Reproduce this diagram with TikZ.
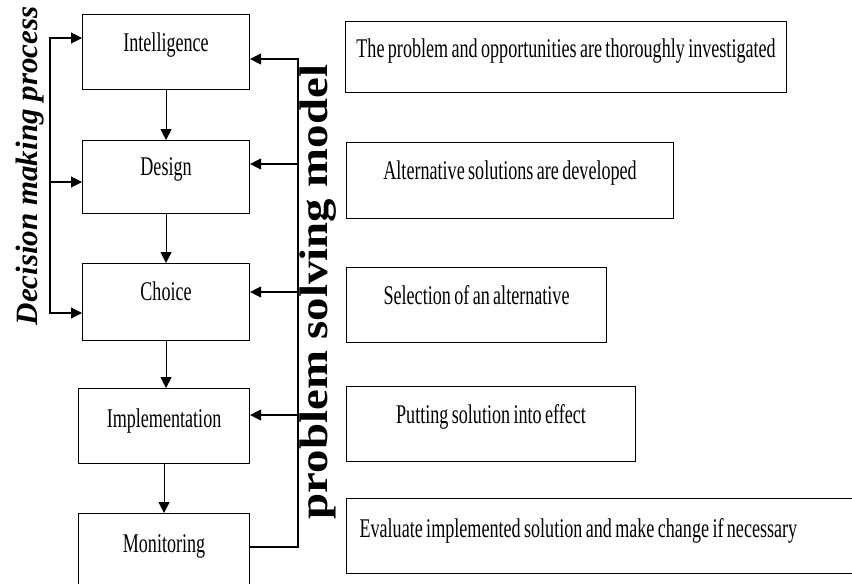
\documentclass[tikz,border=0pt]{standalone}
\usepackage{fontspec}
\setmainfont{Liberation Serif}
\newfontfamily\stagefont{Liberation Serif}[FakeStretch=0.67, WordSpace=0.75]
\newfontfamily\modelfont{Liberation Serif}[FakeStretch=1.17]
\usetikzlibrary{arrows.meta, positioning, calc}

\begin{document}
\begin{tikzpicture}[
    x=1pt, y=-1pt,
    >={Triangle[length=11pt, width=11pt]},
    stagebox/.style={
        rectangle, draw=black, line width=1.1pt,
        inner xsep=4pt, inner ysep=0pt,
        text height=37pt, text depth=38pt,
        anchor=north west,
        font=\stagefont\fontsize{27}{30}\selectfont
    },
    sidelabel/.style={rotate=90, anchor=base, inner sep=0pt},
    arrow/.style={->, line width=1.1pt},
    link/.style={line width=1.1pt, line cap=rect}
]

\useasboundingbox (0,0) rectangle (852,584);
\clip (0,0) rectangle (852,584);

% ==============================================================================
% DECISION STAGES (LEFT COLUMN)
% ==============================================================================
\node[stagebox, minimum width=167pt] (intel) at (82,14) {Intelligence};
\node[stagebox, minimum width=167pt, text height=35pt] (design) at (82,140) {Design};
\node[stagebox, minimum width=167pt, text depth=40pt] (choice) at (82,263) {Choice};
\node[stagebox, minimum width=171pt, text height=39pt, text depth=36pt] (impl) at (78,388) {Implementation};
\node[stagebox, minimum width=171pt, text height=39pt, text depth=60pt] (monit) at (78,513) {Monitoring};

\draw[arrow] (intel.south) -- (design.north);
\draw[arrow] (design.south) -- (choice.north);
\draw[arrow] (choice.south) -- (choice.south |- impl.north);
\draw[arrow] (impl.south) -- (monit.north);

% ==============================================================================
% DECISION MAKING PROCESS (LEFT BRACKET)
% ==============================================================================
\node[sidelabel, font=\bfseries\itshape\fontsize{31}{34}\selectfont] (dmp) at (37,166) {Decision making process};

\coordinate (dmp top) at (50,38);
\coordinate (dmp mid) at (50,182);
\coordinate (dmp bot) at (50,313);

\draw[link] (dmp top) -- (dmp bot);
\draw[arrow] (dmp top) -- (dmp top -| intel.west);
\draw[arrow] (dmp mid) -- (dmp mid -| design.west);
\draw[arrow] (dmp bot) -- (dmp bot -| choice.west);

% ==============================================================================
% PROBLEM SOLVING MODEL (RIGHT BRACKET)
% ==============================================================================
\node[sidelabel, font=\modelfont\bfseries\fontsize{40}{44}\selectfont] (psm) at (327,292) {problem solving model};

\coordinate (psm1) at (298,59);
\coordinate (psm2) at (298,164);
\coordinate (psm3) at (298,292);
\coordinate (psm4) at (298,415);
\coordinate (psm5) at (298,547);

\draw[link] (psm1) -- (psm5) -- (psm5 -| monit.east);
\draw[arrow] (psm1) -- (psm1 -| intel.east);
\draw[arrow] (psm2) -- (psm2 -| design.east);
\draw[arrow] (psm3) -- (psm3 -| choice.east);
\draw[arrow] (psm4) -- (psm4 -| impl.east);

% ==============================================================================
% STAGE DESCRIPTIONS (RIGHT COLUMN)
% ==============================================================================
\node[stagebox, minimum width=441pt, text height=36pt, text depth=35pt] (scan) at (345,21) {The problem and opportunities are thoroughly investigated};
\node[stagebox, minimum width=327pt, text depth=39pt] (alts) at (346,142) {Alternative solutions are developed};
\node[stagebox, minimum width=260pt] (select) at (346,267) {Selection of an alternative};
\node[stagebox, minimum width=289pt] (apply) at (346,386) {Putting solution into effect};
\node[stagebox, text width=490pt, align=flush left, inner xsep=13pt, text height=39pt, text depth=36pt] (review) at (346,498) {Evaluate implemented solution and make change if necessary};

\end{tikzpicture}
\end{document}
